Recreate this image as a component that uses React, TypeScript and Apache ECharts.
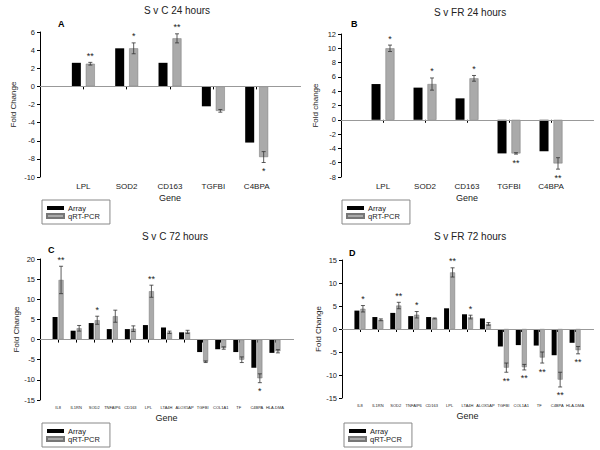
import React, { useEffect, useRef } from "react";
import * as echarts from "echarts";

// ---- Data ----
const genes24 = ["LPL", "SOD2", "CD163", "TGFBI", "C4BPA"];
const genes72 = ["IL8", "IL1RN", "SOD2", "TNFAIP6", "CD163", "LPL", "LTA4H", "ALOX5AP", "TGFBI", "COL1A1", "TF", "C4BPA", "HLA-DMA"];

const arrayA = [2.6, 4.2, 2.6, -2.2, -6.2];
const qpcrA = [2.5, 4.2, 5.3, -2.7, -7.8];
const errA = [0.15, 0.6, 0.5, 0.15, 0.6];
const sigA = ["**", "*", "**", "", "*"];

const arrayB = [5.0, 4.5, 3.0, -4.7, -4.4];
const qpcrB = [10.0, 5.0, 5.8, -4.7, -6.1];
const errB = [0.45, 0.85, 0.4, 0.1, 0.8];
const sigB = ["*", "*", "*", "**", "**"];

const arrayC = [5.6, 2.2, 4.1, 2.6, 2.6, 3.6, 3.0, 1.8, -3.1, -2.4, -3.1, -7.0, -3.3];
const qpcrC = [14.8, 2.8, 4.8, 5.8, 2.7, 12.0, 1.8, 1.9, -5.5, -2.1, -5.0, -9.6, -2.9];
const errC = [3.4, 0.7, 1.0, 1.5, 0.7, 1.5, 0.3, 0.4, 0.2, 0.3, 0.7, 1.1, 0.4];
const sigC = ["**", "", "*", "", "", "**", "", "", "", "", "", "*", ""];

const arrayD = [4.0, 2.6, 3.5, 2.8, 2.6, 4.5, 3.2, 2.3, -3.8, -3.5, -3.6, -5.7, -3.0];
const qpcrD = [4.4, 2.0, 5.1, 3.1, 2.3, 12.3, 2.6, 1.1, -8.4, -8.3, -6.2, -11.0, -4.6];
const errD = [0.7, 0.2, 0.7, 0.7, 0.1, 1.0, 0.4, 0.3, 1.0, 0.6, 1.2, 1.6, 0.8];
const sigD = ["*", "", "**", "*", "", "**", "*", "", "**", "**", "**", "**", "**"];

const titles = ["S v C 24 hours", "S v FR 24 hours", "S v C 72 hours", "S v FR 72 hours"];
const yNames = ["Fold Change", "Fold change", "Fold Change", "Fold Change"];
const letters = ["A", "B", "C", "D"];

const FONT = "'Liberation Sans', Arial, sans-serif";

const pad = (arr: any[]) => ["-", ...arr, "-"];

type Panel = {
  genes: string[]; arr: number[]; q: number[]; err: number[]; sig: string[];
  grid: { left: number; top: number; width: number; height: number };
  min: number; max: number; interval: number;
  barW: number; gap: string; off: number; xFont: number; nameGapY: number; nameGapX: number;
};

const panels: Panel[] = [
  { genes: genes24, arr: arrayA, q: qpcrA, err: errA, sig: sigA, grid: { left: 40, top: 32, width: 260, height: 145 }, min: -10, max: 6, interval: 2, barW: 9, gap: "55%", off: 7, xFont: 8, nameGapY: 23, nameGapX: 16 },
  { genes: genes24, arr: arrayB, q: qpcrB, err: errB, sig: sigB, grid: { left: 341, top: 34, width: 252, height: 143 }, min: -8, max: 12, interval: 2, barW: 9, gap: "55%", off: 7, xFont: 8, nameGapY: 22, nameGapX: 16 },
  { genes: genes72, arr: arrayC, q: qpcrC, err: errC, sig: sigC, grid: { left: 40, top: 259, width: 253, height: 141 }, min: -15, max: 20, interval: 5, barW: 5, gap: "20%", off: 3, xFont: 4, nameGapY: 20, nameGapX: 13 },
  { genes: genes72, arr: arrayD, q: qpcrD, err: errD, sig: sigD, grid: { left: 342, top: 260, width: 251, height: 138 }, min: -15, max: 15, interval: 5, barW: 5, gap: "20%", off: 3, xFont: 4, nameGapY: 20, nameGapX: 13 },
];

function makeErr(sig: string[], off: number) {
  return (params: any, api: any) => {
    const i = api.value(0), v = api.value(1), e = api.value(2);
    const t = api.coord([i, v + e]);
    const b = api.coord([i, v - e]);
    const x = t[0] + off;
    const cap = 2;
    const st = { stroke: "#333", lineWidth: 0.8 };
    const children: any[] = [
      { type: "line", shape: { x1: x, y1: t[1], x2: x, y2: b[1] }, style: st },
      { type: "line", shape: { x1: x - cap, y1: t[1], x2: x + cap, y2: t[1] }, style: st },
      { type: "line", shape: { x1: x - cap, y1: b[1], x2: x + cap, y2: b[1] }, style: st },
    ];
    const s = sig[params.dataIndex];
    if (s) {
      const pos = v >= 0;
      children.push({
        type: "text", x, y: pos ? t[1] - 2 : b[1] + 4,
        style: {
          text: s, fill: "#222", font: `9px ${FONT}`,
          align: "center", textAlign: "center",
          verticalAlign: pos ? "bottom" : "top", textVerticalAlign: pos ? "bottom" : "top",
        },
      });
    }
    return { type: "group", children };
  };
}

export default function App() {
  const ref = useRef<HTMLDivElement>(null);
  useEffect(() => {
    const chart = echarts.init(ref.current!, null, { renderer: "svg" });
    const grid: any[] = [], xAxis: any[] = [], yAxis: any[] = [], series: any[] = [];
    panels.forEach((p, k) => {
      grid.push(p.grid);
      xAxis.push({
        type: "category", gridIndex: k, data: ["", ...p.genes, ""], boundaryGap: false,
        name: "Gene", nameLocation: "middle", nameGap: p.nameGapX,
        nameTextStyle: { fontSize: 9, color: "#222", fontFamily: FONT },
        axisLine: { lineStyle: { color: "#000", width: 1 } },
        axisTick: { length: 3, lineStyle: { color: "#000" }, interval: (idx: number, val: string) => val !== "" },
        axisLabel: { fontSize: p.xFont, color: "#222", fontFamily: FONT, margin: 5, interval: 0 },
        splitLine: { show: false },
      });
      yAxis.push({
        type: "value", gridIndex: k, min: p.min, max: p.max, interval: p.interval,
        name: yNames[k], nameLocation: "middle", nameGap: p.nameGapY,
        nameTextStyle: { fontSize: 8, color: "#222", fontFamily: FONT },
        axisLine: { show: true, lineStyle: { color: "#000", width: 1 } },
        axisTick: { show: true, length: 3, lineStyle: { color: "#000" } },
        axisLabel: { fontSize: 7.5, color: "#222", fontFamily: FONT, margin: 5 },
        splitLine: { show: false },
      });
      series.push({
        type: "bar", name: "Array", xAxisIndex: k, yAxisIndex: k, data: pad(p.arr),
        barWidth: p.barW, barGap: p.gap, itemStyle: { color: "#000" },
        markLine: {
          silent: true, symbol: "none", label: { show: false },
          lineStyle: { color: "#999", width: 1, type: "solid" },
          data: [{ yAxis: 0 }],
        },
      });
      series.push({
        type: "bar", name: "qRT-PCR", xAxisIndex: k, yAxisIndex: k, data: pad(p.q),
        barWidth: p.barW, barGap: p.gap, itemStyle: { color: "#aaaaaa", borderColor: "#777", borderWidth: 0.5 },
      });
      series.push({
        type: "custom", name: "err" + k, xAxisIndex: k, yAxisIndex: k,
        renderItem: makeErr(p.sig, p.off),
        data: p.q.map((v, i) => [i + 1, v, p.err[i]]),
        z: 5,
      });
    });
    const titlePos = [[172, 0], [465, 2], [170, 226], [465, 226]];
    const legendPos = [[42, 200], [342, 200], [42, 423], [344, 423]];
    const letterPos = [[62, 24], [355, 24], [52, 250], [353, 253]];
    chart.setOption({
      animation: false,
      title: titles.map((t, k) => ({
        text: t, left: titlePos[k][0], top: titlePos[k][1], textAlign: "center",
        textStyle: { fontSize: 10, fontWeight: "normal", color: "#222", fontFamily: FONT },
      })),
      legend: legendPos.map((pos) => ({
        data: ["Array", "qRT-PCR"], left: pos[0], top: pos[1], orient: "vertical",
        icon: "rect", itemWidth: 17, itemHeight: 4, itemGap: 0,
        textStyle: { fontSize: 7.5, color: "#222", fontFamily: FONT, padding: [0, 0, 0, -1] },
        borderColor: "#888", borderWidth: 1, padding: [4, 10, 4, 4],
        selectedMode: false,
      })),
      grid, xAxis, yAxis, series,
      graphic: letters.map((l, k) => ({
        type: "text", left: letterPos[k][0] - 4, top: letterPos[k][1] - 5,
        style: { text: l, font: `bold 9px ${FONT}`, fill: "#000" },
      })),
    });
    return () => chart.dispose();
  }, []);
  return <div ref={ref} style={{ width: 600, height: 450, position: "absolute", left: 0, top: 0 }} />;
}
